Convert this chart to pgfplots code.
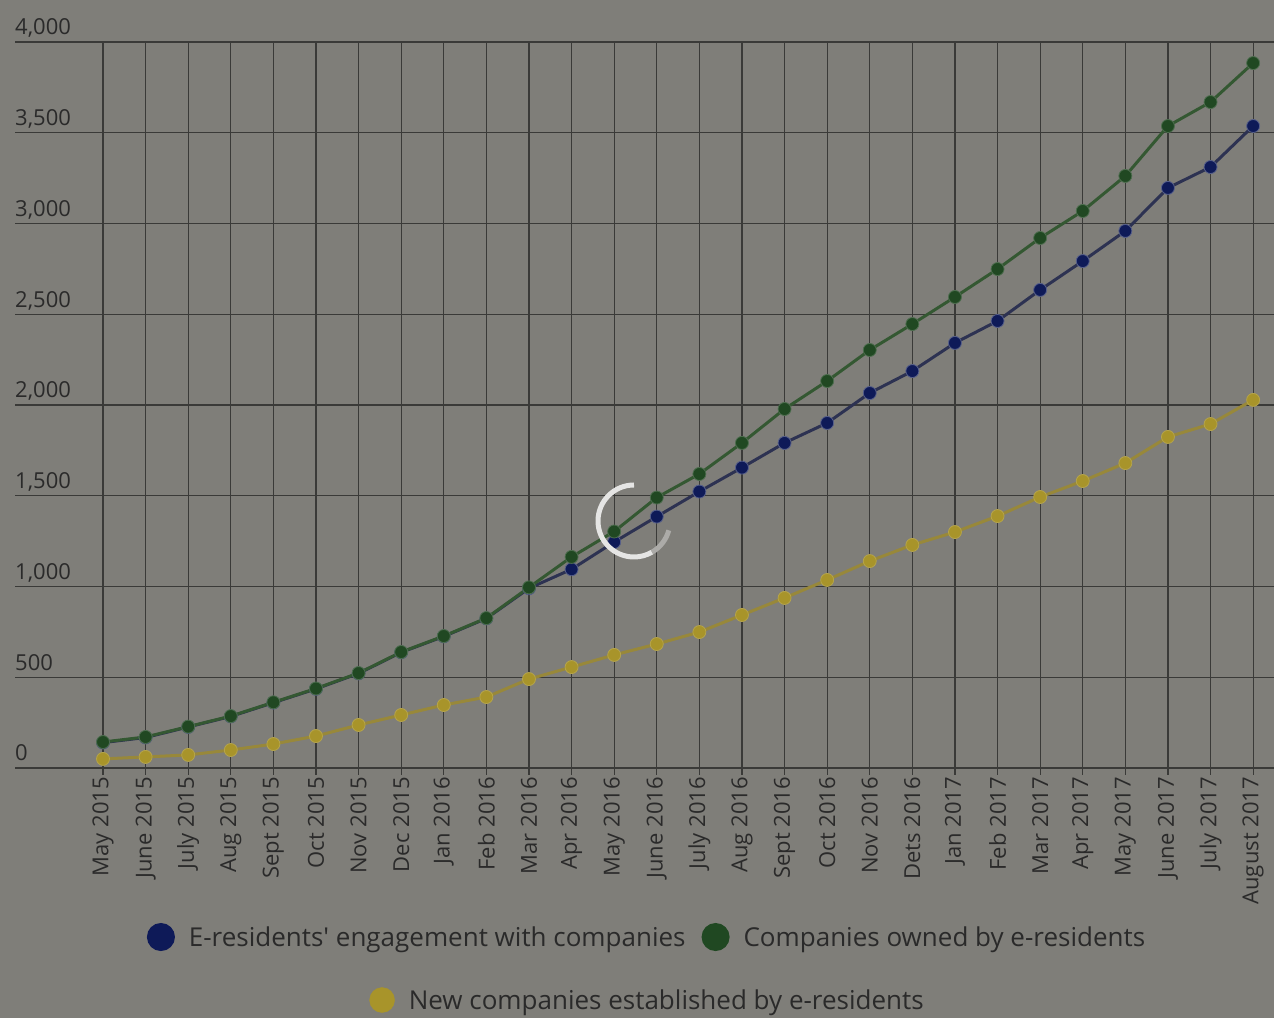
\documentclass[border=0pt]{standalone}
\usepackage{fontspec}
\setmainfont{Open Sans}
\usepackage{pgfplots}
\pgfplotsset{compat=1.18}
\usepackage{pgfplotstable}

\definecolor{bg}{RGB}{127,126,121}
\definecolor{gridc}{RGB}{58,58,56}
\definecolor{txt}{RGB}{42,42,42}
\definecolor{blueL}{RGB}{45,50,82}
\definecolor{blueM}{RGB}{14,26,88}
\definecolor{greenL}{RGB}{52,88,50}
\definecolor{greenM}{RGB}{32,72,34}
\definecolor{yelL}{RGB}{152,136,58}
\definecolor{yelM}{RGB}{168,148,42}

% monthly counts, May 2015 .. August 2017
\pgfplotstableread{
i  blue  green yellow
0  140   143   50
1  168   171   61
2  226   228   72
3  284   286   99
4  360   362   132
5  436   438   176
6  521   523   237
7  637   639   292
8  725   727   347
9  824   826   391
10 990   995   490
11 1095  1163  556
12 1245  1303  623
13 1385  1490  683
14 1523  1620  749
15 1655  1791  843
16 1791  1978  937
17 1901  2132  1036
18 2066  2303  1140
19 2187  2446  1229
20 2342  2595  1300
21 2463  2749  1388
22 2634  2920  1493
23 2793  3069  1581
24 2959  3262  1680
25 3196  3537  1824
26 3311  3669  1895
27 3537  3884  2028
}\eres

\begin{document}
\begin{tikzpicture}[x=1bp,y=1bp]
\useasboundingbox (0,0) rectangle (1274,1018);
\clip (0,0) rectangle (1274,1018);
\fill[bg] (0,0) rectangle (1274,1018);
\begin{axis}[
  at={(15bp,250bp)}, anchor=south west,
  scale only axis, width=1259bp, height=726bp,
  xmin=-2.066, xmax=27.49, ymin=0, ymax=4000,
  axis line style={draw=none},
  xtick={0,...,27},
  xticklabels={May 2015, June 2015, July 2015, Aug 2015, Sept 2015, Oct 2015, Nov 2015, Dec 2015,
    Jan 2016, Feb 2016, Mar 2016, Apr 2016, May 2016, June 2016, July 2016, Aug 2016,
    Sept 2016, Oct 2016, Nov 2016, Dets 2016, Jan 2017, Feb 2017, Mar 2017, Apr 2017,
    May 2017, June 2017, July 2017, August 2017},
  ytick={0,500,...,4000},
  scaled y ticks=false,
  grid=major, grid style={gridc, line width=1.2bp},
  tick align=outside, major tick length=7bp,
  xtick pos=left, ytick pos=left,
  xtick style={gridc, line width=1.2bp}, ytick style={draw=none},
  tick label style={font=\fontsize{22bp}{25bp}\selectfont, text=txt},
  /pgf/number format/assume math mode=true,
  /pgf/number format/1000 sep={,},
  xticklabel style={rotate=90, anchor=east, inner sep=2bp},
  yticklabel style={anchor=base west, inner sep=0pt, xshift=7bp, yshift=7bp},
  clip=false,
  legend style={at={(0.502,-0.2328)}, anchor=center, draw=none, fill=none,
    text=txt, font=\fontsize{26bp}{30bp}\selectfont,
    /tikz/every odd column/.append style={column sep=12bp},
    /tikz/every even column/.append style={column sep=14bp}},
  legend columns=2,
]
\addplot[blueL, line width=3bp, mark=*, mark size=6.5bp,
  mark options={fill=blueM, draw=blueM!70!white, line width=0.8bp},
  legend image code/.code={\fill[blueM] (0bp,0bp) circle (12.5bp);}]
  table[x=i, y=blue]{\eres};
\addlegendentry{E-residents\textquotesingle{} engagement with companies}
\addplot[greenL, line width=3bp, mark=*, mark size=6.5bp,
  mark options={fill=greenM, draw=greenM!80!white, line width=0.8bp},
  legend image code/.code={\fill[greenM] (0bp,0bp) circle (12.5bp);}]
  table[x=i, y=green]{\eres};
\addlegendentry{Companies owned by e-residents}
\addplot[yelL, line width=3bp, mark=*, mark size=6.5bp, forget plot,
  mark options={fill=yelM, draw=yelM!85!white, line width=0.8bp}]
  table[x=i, y=yellow]{\eres};
\end{axis}
\begin{axis}[
  at={(15bp,250bp)}, anchor=south west,
  scale only axis, width=1259bp, height=726bp,
  xmin=0, xmax=1, ymin=0, ymax=1, hide axis,
  legend style={at={(0.5024,-0.3196)}, anchor=center, draw=none, fill=none,
    text=txt, font=\fontsize{26bp}{30bp}\selectfont,
    /tikz/every odd column/.append style={column sep=12bp}},
]
\addlegendimage{legend image code/.code={\fill[yelM] (0bp,0bp) circle (12.5bp);}}
\addlegendentry{New companies established by e-residents}
\end{axis}
% loading spinner overlay
\draw[white!80!bg, line width=5bp] (634,497) ++(90:36) arc[start angle=90, end angle=300, radius=36];
\draw[white!35!bg, line width=5bp] (634,497) ++(300:36) arc[start angle=300, end angle=345, radius=36];
\end{tikzpicture}
\end{document}
